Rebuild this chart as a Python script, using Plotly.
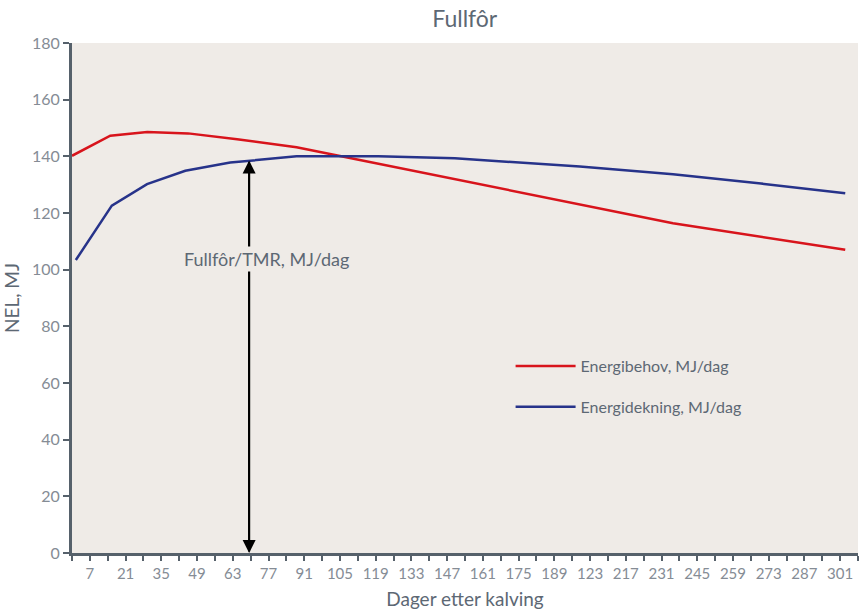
import plotly.graph_objects as go

# ---- data ----
behov_days = [0, 15, 29.5, 45.5, 64.7, 88, 105, 199, 235.5, 303]
behov_vals = [140.2, 147.3, 148.6, 148.1, 146.0, 143.2, 140.1, 123.1, 116.4, 107.0]

dekning_days = [1.5, 15.6, 29.4, 44.4, 62, 88, 120, 150, 199, 235.5, 270, 303]
dekning_vals = [103.4, 122.6, 130.2, 134.9, 137.8, 140.0, 140.0, 139.3, 136.4, 133.7, 130.4, 127.0]

tick_days = [7, 21, 35, 49, 63, 77, 91, 105, 119, 133, 147, 161, 175, 189, 203,
             217, 231, 245, 259, 273, 287, 301]
tick_labels = ["7", "21", "35", "49", "63", "77", "91", "105", "119", "133", "147",
               "161", "175", "189", "123", "217", "231", "245", "259", "273", "287", "301"]

arrow_day = 69.4
arrow_top = 138.5
arrow_label_y = 103.6

FONT = "Lato"
TXT = "#5d6874"
TICK = "#858c95"
AXIS = "#56616b"
BG = "#efebe7"

fig = go.Figure()
fig.add_trace(go.Scatter(x=behov_days, y=behov_vals, mode="lines",
                         name="Energibehov, MJ/dag", legendgroup="a",
                         line=dict(color="#d8141c", width=2.5)))
fig.add_trace(go.Scatter(x=dekning_days, y=dekning_vals, mode="lines",
                         name="Energidekning, MJ/dag", legendgroup="b",
                         line=dict(color="#27338a", width=2.5)))

# double-headed arrow
fig.add_annotation(x=arrow_day, y=arrow_top, ax=arrow_day, ay=0, xref="x", yref="y",
                   axref="x", ayref="y", text="", showarrow=True, arrowhead=2,
                   arrowsize=1.3, arrowwidth=2, arrowcolor="black", standoff=0)
fig.add_annotation(x=arrow_day, y=0, ax=arrow_day, ay=arrow_top, xref="x", yref="y",
                   axref="x", ayref="y", text="", showarrow=True, arrowhead=2,
                   arrowsize=1.3, arrowwidth=2, arrowcolor="black", standoff=0)
fig.add_annotation(x=arrow_day + 7, y=arrow_label_y, xref="x", yref="y",
                   text="Fullfôr/TMR, MJ/dag", showarrow=False,
                   font=dict(family=FONT, size=18, color=TXT), bgcolor=BG)

fig.update_layout(
    width=859, height=616,
    margin=dict(l=72, r=1, t=43, b=63),
    paper_bgcolor="white", plot_bgcolor=BG,
    title=dict(text="Fullfôr", x=0.541, xanchor="center", y=0.97, yanchor="middle",
               font=dict(family=FONT, size=23, color=TXT)),
    showlegend=True,
    legend=dict(x=0.558, y=0.4, xanchor="left", yanchor="top",
                bgcolor="rgba(0,0,0,0)", font=dict(family=FONT, size=16, color=TXT),
                tracegroupgap=17, itemwidth=60),
    font=dict(family=FONT),
)
fig.update_xaxes(range=[0, 308], tickmode="array", tickvals=tick_days, ticktext=tick_labels,
                 ticks="outside", ticklen=5, tickwidth=2, tickcolor=AXIS,
                 minor=dict(tick0=0, dtick=14, ticks="outside", ticklen=5, tickwidth=2, tickcolor=AXIS),
                 showline=True, linecolor=AXIS, linewidth=3, showgrid=False, zeroline=False,
                 tickfont=dict(family=FONT, size=15, color=TICK),
                 title=dict(text="Dager etter kalving", font=dict(family=FONT, size=19, color=TXT),
                            standoff=12))
fig.update_yaxes(range=[0, 180], dtick=20, ticks="outside", ticklen=6, tickwidth=2,
                 tickcolor=AXIS, showline=True, linecolor=AXIS, linewidth=3,
                 showgrid=False, zeroline=False,
                 tickfont=dict(family=FONT, size=16, color=TICK),
                 title=dict(text="NEL, MJ", font=dict(family=FONT, size=19, color=TXT),
                            standoff=8))

fig.write_html("out.html", config={"displayModeBar": False},
               post_script="document.body.style.margin='0';document.body.style.padding='0';")
